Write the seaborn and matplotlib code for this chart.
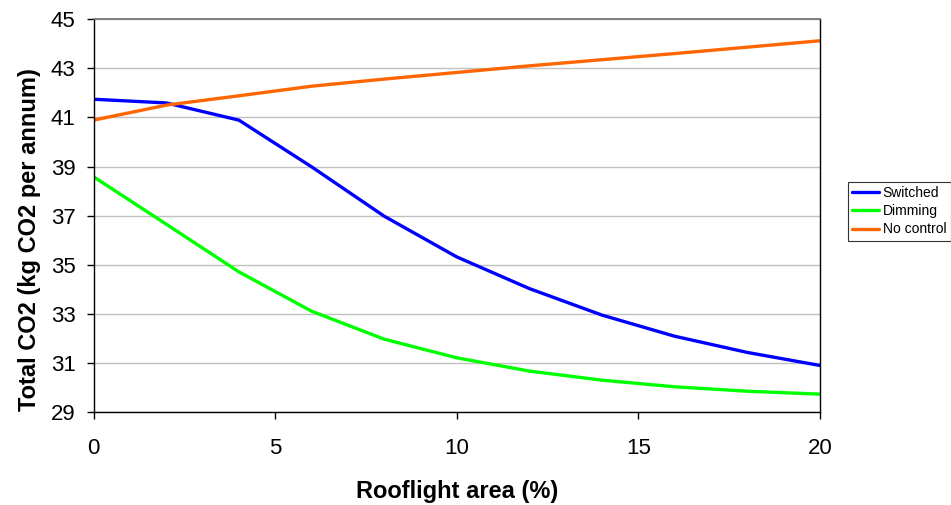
import numpy as np
import pandas as pd
import matplotlib
matplotlib.use("Agg")
import matplotlib.pyplot as plt
import seaborn as sns

sns.set_style("white")
plt.rcParams["font.family"] = ["Liberation Sans", "DejaVu Sans"]
plt.rcParams["text.color"] = "black"
plt.rcParams["axes.labelcolor"] = "black"

# rooflight area (%) and total CO2 for each control strategy
rooflight = [0, 2, 4, 6, 8, 10, 12, 14, 16, 18, 20]
switched = [41.74, 41.59, 40.89, 38.99, 36.98, 35.32, 34.03, 32.95, 32.09, 31.43, 30.90]
dimming = [38.58, 36.65, 34.71, 33.11, 31.97, 31.21, 30.67, 30.30, 30.03, 29.85, 29.73]
no_control = [40.89, 41.50, 41.88, 42.27, 42.56, 42.83, 43.10, 43.35, 43.60, 43.86, 44.12]

series = ["Switched", "Dimming", "No control"]
colors = ["#0000FF", "#00FF00", "#FF6600"]

df = pd.DataFrame({
    "area": rooflight * 3,
    "co2": switched + dimming + no_control,
    "control": np.repeat(series, len(rooflight)),
})

fig = plt.figure(figsize=(9.51, 5.05), dpi=100)
ax = fig.add_axes([0.0985, 0.184, 0.7635, 0.778])

sns.lineplot(data=df, x="area", y="co2", hue="control", hue_order=series,
             palette=colors, linewidth=2.4, ax=ax, legend=True)

ax.set_xlim(0, 20)
ax.set_ylim(29, 45)
ax.set_xticks([0, 5, 10, 15, 20])
ax.set_yticks(np.arange(29, 46, 2))
ax.yaxis.grid(True, color="#C0C0C0", linewidth=1)
ax.xaxis.grid(False)
ax.set_axisbelow(True)

ax.tick_params(axis="both", direction="out", length=5, width=1, labelsize=16,
               colors="black", bottom=True, left=True)
ax.tick_params(axis="x", pad=14)
ax.tick_params(axis="y", pad=8)
for side in ["left", "bottom", "right"]:
    ax.spines[side].set_color("black")
    ax.spines[side].set_linewidth(1)
ax.spines["top"].set_color("#707070")
ax.spines["top"].set_linewidth(1.2)

ax.set_xlabel("Rooflight area (%)", fontsize=17, fontweight="bold", labelpad=15)
ax.set_ylabel("Total CO2 (kg CO2 per annum)", fontsize=17, fontweight="bold",
              labelpad=7, y=0.438)

leg = ax.legend(loc="upper left", bbox_to_anchor=(848 / 951, 1 - 182 / 505),
                bbox_transform=fig.transFigure, fontsize=10, frameon=True,
                fancybox=False, edgecolor="black", borderpad=0.3,
                handlelength=1.9, handletextpad=0.3, labelspacing=0.3,
                borderaxespad=0)
leg.get_frame().set_linewidth(0.8)
for line in leg.get_lines():
    line.set_linewidth(2.4)

fig.savefig("out.png", dpi=100)
